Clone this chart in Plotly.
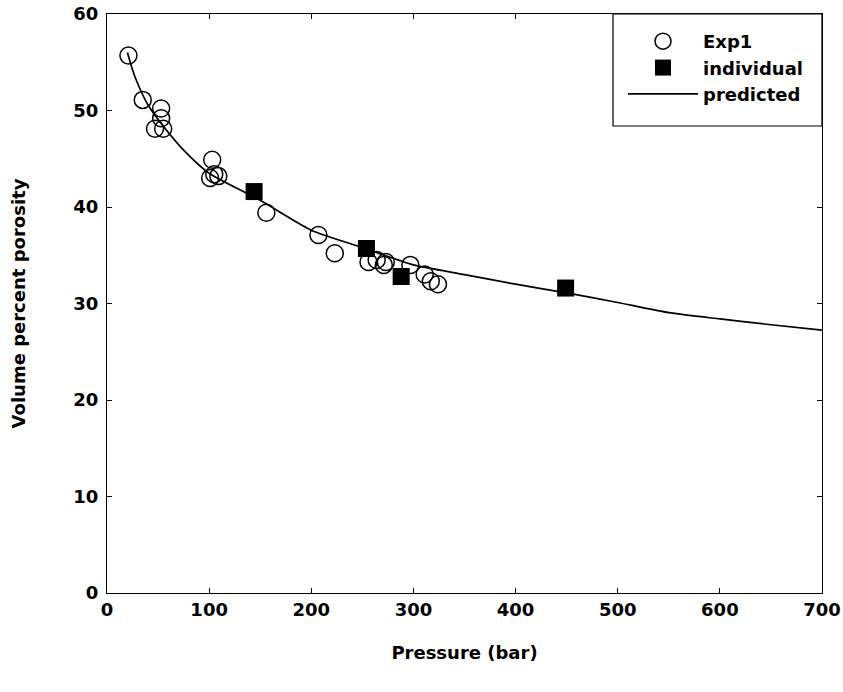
import plotly.graph_objects as go

# Experimental data (Exp1)
exp1_pressure = [21, 35, 47, 53, 53, 55, 103, 101, 105, 109, 156, 207, 223, 256, 264, 271, 273, 297, 311, 317, 324]
exp1_porosity = [55.7, 51.1, 48.1, 50.2, 49.2, 48.1, 44.9, 43.0, 43.4, 43.2, 39.4, 37.1, 35.2, 34.3, 34.5, 34.0, 34.3, 34.0, 33.0, 32.3, 32.0]

# Individual points
ind_pressure = [144, 254, 288, 449]
ind_porosity = [41.6, 35.7, 32.8, 31.6]

# Predicted curve
pred_pressure = [20, 25, 30, 40, 55, 75, 100, 150, 200, 250, 300, 350, 400, 450, 500, 550, 600, 650, 700]
pred_porosity = [56.0, 54.2, 52.8, 50.6, 48.4, 45.9, 43.5, 40.7, 37.6, 35.8, 34.0, 33.0, 32.0, 31.1, 30.1, 29.05, 28.4, 27.8, 27.25]

x_ticks = [0, 100, 200, 300, 400, 500, 600, 700]
y_ticks = [0, 10, 20, 30, 40, 50, 60]

FONT = "DejaVu Sans, Liberation Sans, Arial, sans-serif"
TXT = dict(family=FONT, size=18, color="black", weight="bold")

fig = go.Figure()
fig.add_trace(go.Scatter(
    x=pred_pressure, y=pred_porosity, mode="lines", name="predicted",
    line=dict(color="black", width=1.7, shape="spline", smoothing=0.6), legendrank=3))
fig.add_trace(go.Scatter(
    x=exp1_pressure, y=exp1_porosity, mode="markers", name="Exp1",
    marker=dict(symbol="circle-open", size=17, color="black", line=dict(width=1.5, color="black")),
    legendrank=1))
fig.add_trace(go.Scatter(
    x=ind_pressure, y=ind_porosity, mode="markers", name="individual",
    marker=dict(symbol="square", size=17, color="black"), legendrank=2))

axis_common = dict(
    showgrid=False, zeroline=False, showline=True, linecolor="black", linewidth=1.2,
    mirror="ticks", ticks="inside", ticklen=5, tickcolor="black", tickwidth=1,
    tickfont=TXT, ticklabeloverflow="allow",
)

fig.update_xaxes(range=[0, 700], tickvals=x_ticks, ticktext=[str(v) for v in x_ticks],
                 title=dict(text="Pressure (bar)", font=TXT, standoff=27),
                 **axis_common)
fig.update_yaxes(range=[0, 60], tickvals=y_ticks, ticktext=[str(v) for v in y_ticks],
                 ticklabelstandoff=4,
                 title=dict(text="Volume percent porosity", font=TXT, standoff=42),
                 **axis_common)

# legend frame (drawn as a shape so its padding can match the original)
fig.add_shape(type="rect", xref="paper", yref="paper",
              x0=0.7077, x1=1.0, y0=0.8066, y1=1.0,
              line=dict(color="black", width=1.2), fillcolor="white", layer="above")

fig.update_layout(
    width=843, height=692,
    margin=dict(l=107, r=21, t=14, b=99, autoexpand=False),
    plot_bgcolor="white", paper_bgcolor="white",
    showlegend=True,
    legend=dict(x=0.7217, xanchor="left", y=0.9845, yanchor="top",
                borderwidth=0, bgcolor="rgba(0,0,0,0)",
                font=TXT, itemwidth=70, traceorder="normal"),
)

# remove the browser's default 8px body margin so the figure fills the window
fig.write_html("out.html", config={"displayModeBar": False},
               post_script="document.body.style.margin='0';")
